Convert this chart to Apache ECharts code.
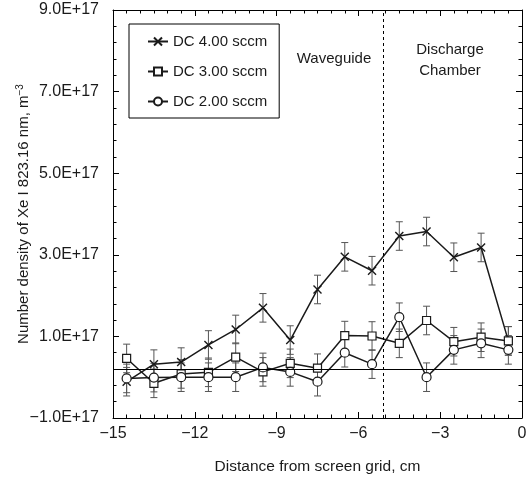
<!DOCTYPE html>
<html>
<head>
<meta charset="utf-8">
<script src="https://cdn.jsdelivr.net/npm/echarts@6/dist/echarts.min.js"></script>
<style>
  html, body { margin: 0; padding: 0; background: #fff; }
  #chart { width: 532px; height: 479px; }
</style>
</head>
<body>
<div id="chart"></div>
<script>
// distance from screen grid, cm
const positions = [-14.5, -13.5, -12.5, -11.5, -10.5, -9.5, -8.5, -7.5, -6.5, -5.5, -4.5, -3.5, -2.5, -1.5, -0.5]
// number density of Xe I 823.16 nm, in units of 1E+17 m^-3
const dc4 = [-0.11, 0.32, 0.37, 0.79, 1.17, 1.70, 0.91, 2.15, 2.95, 2.61, 3.46, 3.57, 2.94, 3.18, 0.89]
const dc3 = [0.46, -0.15, 0.08, 0.12, 0.49, 0.13, 0.34, 0.22, 1.02, 1.01, 0.83, 1.39, 0.87, 0.98, 0.89]
const dc2 = [-0.03, -0.01, 0.00, 0.00, 0.00, 0.24, 0.13, -0.11, 0.60, 0.32, 1.47, 0.00, 0.67, 0.83, 0.67]
// error bar half-widths, same units
const dc4Err = [0.35, 0.35, 0.35, 0.35, 0.35, 0.35, 0.35, 0.35, 0.35, 0.35, 0.35, 0.35, 0.35, 0.35, 0.35]
const dc3Err = [0.35, 0.35, 0.35, 0.35, 0.35, 0.35, 0.35, 0.35, 0.35, 0.35, 0.35, 0.35, 0.35, 0.35, 0.35]
const dc2Err = [0.35, 0.35, 0.35, 0.35, 0.35, 0.35, 0.35, 0.35, 0.35, 0.35, 0.35, 0.35, 0.35, 0.35, 0.35]
const seriesNames = ['DC 4.00 sccm', 'DC 3.00 sccm', 'DC 2.00 sccm']
const baseline = 0.2      // horizontal reference line
const boundary = -5.1     // waveguide / discharge chamber boundary

const FONT = '"Liberation Sans", Arial, sans-serif'
const INK = '#1a1a1a'

const minus = s => String(s).replace('-', '\u2212')

function errorBars(vals, errs) {
  return {
    type: 'custom',
    silent: true,
    z: 1,
    encode: { x: 0, y: [1, 2] },
    data: positions.map((p, i) => [p, vals[i] - errs[i], vals[i] + errs[i]]),
    renderItem: (params, api) => {
      const x = api.value(0)
      const lo = api.coord([x, api.value(1)])
      const hi = api.coord([x, api.value(2)])
      const w = 3.5
      const style = { stroke: '#555', lineWidth: 1 }
      return {
        type: 'group',
        children: [
          { type: 'line', shape: { x1: lo[0], y1: lo[1], x2: hi[0], y2: hi[1] }, style },
          { type: 'line', shape: { x1: lo[0] - w, y1: lo[1], x2: lo[0] + w, y2: lo[1] }, style },
          { type: 'line', shape: { x1: hi[0] - w, y1: hi[1], x2: hi[0] + w, y2: hi[1] }, style }
        ]
      }
    }
  }
}

const axisLine = { show: true, onZero: false, lineStyle: { color: '#000', width: 1 } }
const axisTick = { inside: true, length: 6, lineStyle: { color: '#000' } }
const minorTick = { show: true, length: 3.5, lineStyle: { color: '#000' } }
const labelStyle = { color: INK, fontSize: 16, fontFamily: FONT }

const xBase = { type: 'value', min: -15, max: 0, interval: 3, splitLine: { show: false }, axisLine, axisTick }
const yBase = { type: 'value', min: -1, max: 9, interval: 2, splitLine: { show: false }, axisLine, axisTick }

const chart = echarts.init(document.getElementById('chart'))
chart.setOption({
  animation: false,
  backgroundColor: '#fff',
  grid: { left: 113, right: 10, top: 10, bottom: 61, containLabel: false, outerBoundsMode: 'none' },
  xAxis: [
    {
      ...xBase,
      minorTick: { ...minorTick, splitNumber: 6 },
      axisLabel: { ...labelStyle, margin: 8, formatter: v => minus(v) },
      name: 'Distance from screen grid, cm',
      nameLocation: 'middle',
      nameGap: 41,
      nameMoveOverlap: false,
      nameTextStyle: { ...labelStyle, fontSize: 15.5 }
    },
    { ...xBase, position: 'top', minorTick: { ...minorTick, splitNumber: 6 }, axisLabel: { show: false } }
  ],
  yAxis: [
    {
      ...yBase,
      minorTick: { ...minorTick, splitNumber: 5 },
      axisLabel: { ...labelStyle, margin: 14, formatter: v => minus(v.toFixed(1) + 'E+17') },
      name: 'Number density of Xe I 823.16 nm, m{sup|\u22123}',
      nameLocation: 'middle',
      nameGap: 80,
      nameMoveOverlap: false,
      nameTextStyle: {
        ...labelStyle,
        fontSize: 15,
        rich: { sup: { fontSize: 10, fontFamily: FONT, color: INK, verticalAlign: 'top', padding: [0, 0, 8, 0] } }
      }
    },
    { ...yBase, position: 'right', minorTick: { ...minorTick, splitNumber: 5 }, axisLabel: { show: false } }
  ],
  legend: {
    data: seriesNames,
    orient: 'vertical',
    left: 129,
    top: 24,
    backgroundColor: '#fff',
    borderColor: '#000',
    borderWidth: 1,
    padding: [10, 12, 9, 18],
    itemGap: 15,
    itemWidth: 20,
    itemHeight: 10,
    textStyle: { ...labelStyle, fontSize: 15 }
  },
  graphic: [
    {
      type: 'text', x: 334, y: 59, silent: true,
      style: { text: 'Waveguide', align: 'center', verticalAlign: 'middle', font: '15px ' + FONT, fill: INK }
    },
    {
      type: 'text', x: 450, y: 60, silent: true,
      style: { text: 'Discharge\nChamber', align: 'center', verticalAlign: 'middle', lineHeight: 21, font: '15px ' + FONT, fill: INK }
    }
  ],
  series: [
    errorBars(dc4, dc4Err),
    errorBars(dc3, dc3Err),
    errorBars(dc2, dc2Err),
    {
      name: seriesNames[0],
      type: 'line',
      z: 3,
      data: positions.map((p, i) => [p, dc4[i]]),
      symbol: 'path://M0,0L10,10M10,0L0,10',
      symbolSize: 8,
      lineStyle: { color: INK, width: 1.5 },
      itemStyle: { color: INK, borderColor: INK, borderWidth: 1.4 }
    },
    {
      name: seriesNames[1],
      type: 'line',
      z: 3,
      data: positions.map((p, i) => [p, dc3[i]]),
      symbol: 'rect',
      symbolSize: 8,
      lineStyle: { color: INK, width: 1.5 },
      itemStyle: { color: '#fff', borderColor: INK, borderWidth: 1.2 }
    },
    {
      name: seriesNames[2],
      type: 'line',
      z: 3,
      data: positions.map((p, i) => [p, dc2[i]]),
      symbol: 'circle',
      symbolSize: 9,
      lineStyle: { color: INK, width: 1.5 },
      itemStyle: { color: '#fff', borderColor: INK, borderWidth: 1.2 },
      markLine: {
        silent: true,
        symbol: 'none',
        label: { show: false },
        lineStyle: { color: '#000', width: 1, type: 'solid' },
        data: [
          { yAxis: baseline },
          { xAxis: boundary, lineStyle: { color: '#000', width: 1, type: [3, 3] } }
        ]
      }
    }
  ]
})
</script>
</body>
</html>
